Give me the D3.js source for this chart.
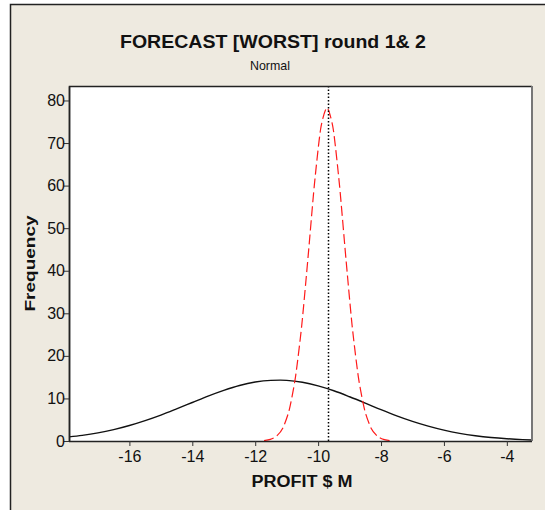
<!DOCTYPE html>
<html>
<head>
<meta charset="utf-8">
<script src="https://cdn.jsdelivr.net/npm/d3@7"></script>
<style>
  html, body { margin: 0; padding: 0; background: #fff; }
  svg { display: block; }
  text { font-family: "Liberation Sans", Arial, sans-serif; fill: #111; }
</style>
</head>
<body>
<div id="chart"></div>
<script>
// Fitted normal curve, round 1 (solid black)
const round1X = [-18, -17.5, -17, -16.5, -16, -15.5, -15, -14.5, -14, -13.5, -13, -12.5, -12, -11.5, -11.2, -11, -10.5, -10, -9.5, -9, -8.5, -8, -7.5, -7, -6.5, -6, -5.5, -5, -4.5, -4, -3.5, -3.2];
const round1Y = [0.9, 1.32, 1.9, 2.68, 3.65, 4.8, 6.1, 7.55, 9.05, 10.55, 11.9, 13.05, 13.85, 14.25, 14.3, 14.25, 13.8, 12.95, 11.8, 10.4, 8.9, 7.35, 5.9, 4.6, 3.48, 2.54, 1.8, 1.24, 0.82, 0.53, 0.33, 0.25];

// Fitted normal curve, round 2 (dashed red)
const round2X = [-11.72, -11.52, -11.32, -11.12, -10.92, -10.72, -10.52, -10.32, -10.12, -9.92, -9.72, -9.52, -9.32, -9.12, -8.92, -8.72, -8.52, -8.32, -8.12, -7.92, -7.72];
const round2Y = [0.1, 0.37, 1.14, 3.07, 7.25, 15.0, 27.2, 43.2, 60.1, 73.3, 78.3, 73.3, 60.1, 43.2, 27.2, 15.0, 7.25, 3.07, 1.14, 0.37, 0.1];

// Reference line at the round 2 mean
const meanLine = [-9.7];

const xTicks = [-16, -14, -12, -10, -8, -6, -4];
const yTicks = [0, 10, 20, 30, 40, 50, 60, 70, 80];

const W = 545, H = 510;
const plot = { left: 69, right: 532, top: 86, bottom: 441 };

const svg = d3.select("#chart").append("svg")
  .attr("width", W).attr("height", H);

// Outer panel
svg.append("rect").attr("x", 10).attr("y", 4).attr("width", W - 10).attr("height", H - 4)
  .attr("fill", "#eeeae0");
svg.append("path").attr("d", `M10.5,${H} V4.5 H${W}`)
  .attr("fill", "none").attr("stroke", "#222").attr("stroke-width", 1.5);

const x = d3.scaleLinear().domain([-17.92, -3.2]).range([plot.left, plot.right]);
const y = d3.scaleLinear().domain([0, 83.4]).range([plot.bottom, plot.top]);

// Plot area
svg.append("rect")
  .attr("x", plot.left).attr("y", plot.top)
  .attr("width", plot.right - plot.left).attr("height", plot.bottom - plot.top)
  .attr("fill", "#fff");

svg.append("clipPath").attr("id", "plotclip")
  .append("rect")
  .attr("x", plot.left).attr("y", plot.top)
  .attr("width", plot.right - plot.left).attr("height", plot.bottom - plot.top);

const g = svg.append("g").attr("clip-path", "url(#plotclip)");

// Round 1
g.append("path")
  .datum(round1X.map((v, i) => [x(v), y(round1Y[i])]))
  .attr("d", d3.line().curve(d3.curveMonotoneX))
  .attr("fill", "none").attr("stroke", "#111").attr("stroke-width", 1.4);

// Round 2
g.append("path")
  .datum(round2X.map((v, i) => [x(v), y(round2Y[i])]))
  .attr("d", d3.line().curve(d3.curveCardinal.tension(0.3)))
  .attr("fill", "none").attr("stroke", "#ff1a1a").attr("stroke-width", 1.2)
  .attr("stroke-dasharray", "10,4");

// Mean reference line
g.selectAll(".mean").data(meanLine).enter().append("line")
  .attr("x1", d => Math.round(x(d)) + 0.5).attr("x2", d => Math.round(x(d)) + 0.5)
  .attr("y1", plot.top).attr("y2", plot.bottom)
  .attr("stroke", "#000").attr("stroke-width", 1.5).attr("stroke-dasharray", "1.5,2");

// Plot frame
svg.append("path")
  .attr("d", `M${plot.left + 0.5},${plot.bottom} V${plot.top + 0.5} H${plot.right}`)
  .attr("fill", "none").attr("stroke", "#222").attr("stroke-width", 1.5);
svg.append("line")
  .attr("x1", plot.right).attr("x2", plot.right)
  .attr("y1", plot.top).attr("y2", plot.bottom)
  .attr("stroke", "#777").attr("stroke-width", 2);

// Axes
const xAxis = svg.append("g").attr("transform", `translate(0,${plot.bottom})`)
  .call(d3.axisBottom(x).tickValues(xTicks).tickSize(5).tickSizeOuter(0)
    .tickFormat(d => d < 0 ? "-" + Math.abs(d) : d));
const yAxis = svg.append("g").attr("transform", `translate(${plot.left},0)`)
  .call(d3.axisLeft(y).tickValues(yTicks).tickSize(5).tickSizeOuter(0));

[xAxis, yAxis].forEach(a => {
  a.select(".domain").attr("stroke", "#222").attr("stroke-width", 1.5);
  a.selectAll(".tick line").attr("stroke", "#333");
  a.selectAll(".tick text").attr("font-family", "Liberation Sans, Arial, sans-serif")
    .attr("font-size", 16).attr("fill", "#111");
});
xAxis.select(".domain").attr("d", `M${plot.left},0.5H${plot.right}`);
xAxis.selectAll(".tick text").attr("dy", "0.9em").attr("y", 7);
yAxis.selectAll(".tick text").attr("x", -4);

// Titles
svg.append("text").attr("x", 273).attr("y", 48).attr("text-anchor", "middle")
  .attr("font-family", "DejaVu Sans, sans-serif")
  .attr("font-size", 18).attr("font-weight", "bold")
  .attr("textLength", 306).attr("lengthAdjust", "spacingAndGlyphs")
  .text("FORECAST [WORST]  round 1& 2");
svg.append("text").attr("x", 270).attr("y", 70).attr("text-anchor", "middle")
  .attr("font-size", 13).attr("font-family", "Liberation Sans Narrow, Liberation Sans, sans-serif")
  .attr("textLength", 40).attr("lengthAdjust", "spacingAndGlyphs")
  .text("Normal");

svg.append("text").attr("x", 302).attr("y", 487).attr("text-anchor", "middle")
  .attr("font-family", "DejaVu Sans, sans-serif")
  .attr("font-size", 16).attr("font-weight", "bold")
  .attr("textLength", 101).attr("lengthAdjust", "spacingAndGlyphs")
  .text("PROFIT  $ M");

svg.append("text")
  .attr("transform", `translate(35,${(plot.top + plot.bottom) / 2}) rotate(-90)`)
  .attr("text-anchor", "middle")
  .attr("font-family", "DejaVu Sans, sans-serif")
  .attr("font-size", 15).attr("font-weight", "bold")
  .attr("textLength", 96).attr("lengthAdjust", "spacingAndGlyphs")
  .text("Frequency");
</script>
</body>
</html>
